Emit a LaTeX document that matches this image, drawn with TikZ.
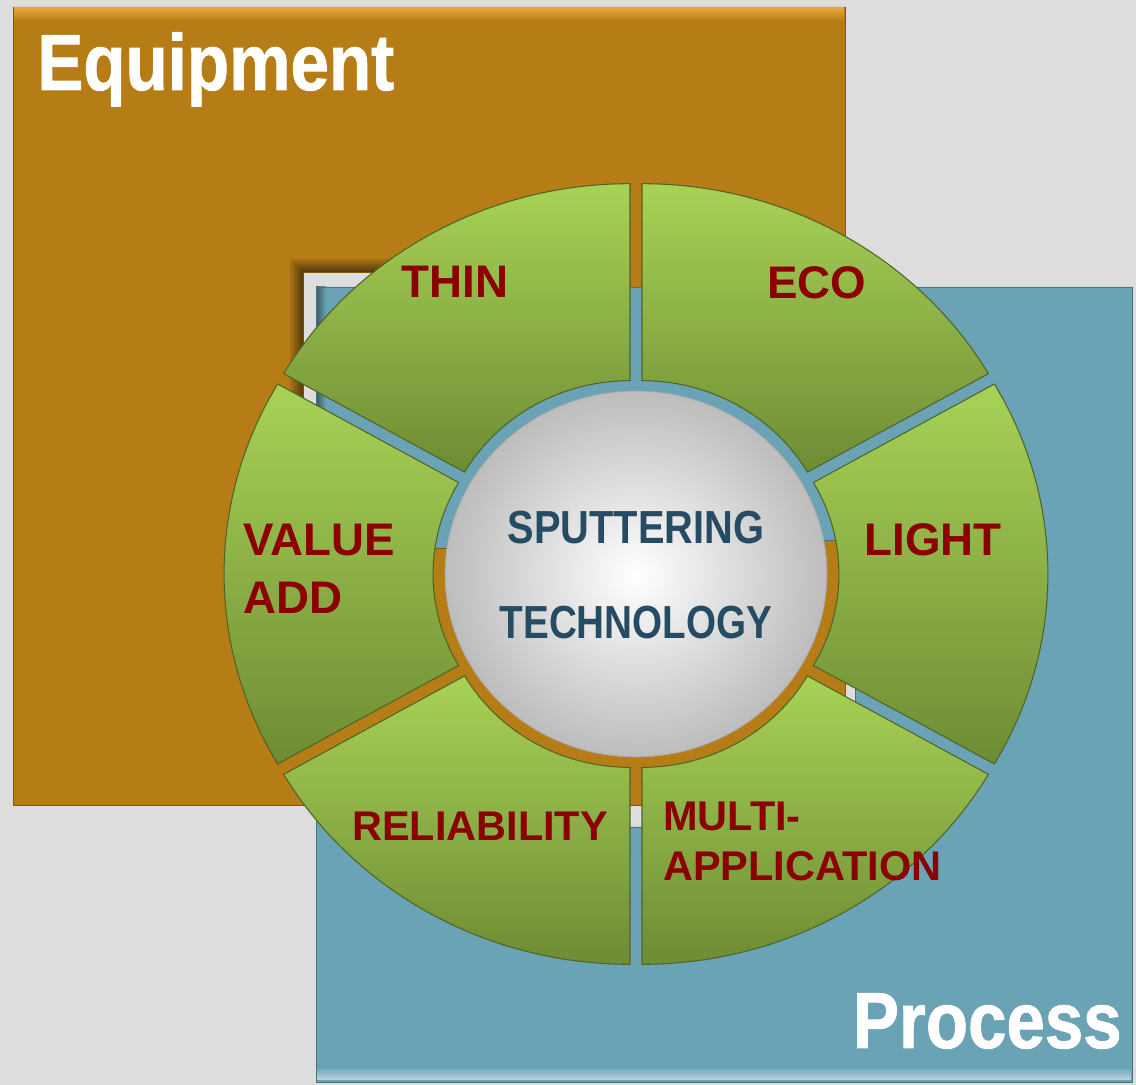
\documentclass[tikz,border=0pt]{standalone}
\usepackage{fontspec}
\usepackage{graphicx}
\setmainfont{Liberation Sans}
\newfontfamily\framefont[FakeBold=1.2]{Liberation Sans Bold}
\usetikzlibrary{shapes.geometric}

\definecolor{bggray}{RGB}{221,221,221}
\definecolor{equiporange}{RGB}{182,124,22}
\definecolor{equiplight}{RGB}{230,168,58}
\definecolor{procblue}{RGB}{106,163,181}
\definecolor{seglight}{RGB}{168,210,86}
\definecolor{segdark}{RGB}{110,140,52}
\definecolor{segedge}{RGB}{80,100,38}
\definecolor{labelred}{RGB}{139,0,0}
\definecolor{hubblue}{RGB}{38,76,100}

\tikzset{
  segment/.style={top color=seglight, bottom color=segdark, draw=segedge, line width=0.6pt},
  seglabel/.style={text=labelred, font=\fontsize{26}{33}\selectfont\bfseries, inner sep=0pt, align=left},
  hubtext/.style={text=hubblue, font=\fontsize{22}{26}\selectfont\bfseries, inner sep=0pt},
  hub/.style={ellipse, minimum width=7.64cm, minimum height=7.32cm, inner color=white, outer color=black!26, draw=black!35},
  framelabel/.style={text=white, font=\fontsize{39.3}{44}\selectfont\framefont, inner sep=0pt}
}

\begin{document}
\begin{tikzpicture}[x=0.02cm, y=0.02cm]
\fill[bggray] (0,0) rectangle (1136,1085);

\fill[procblue, even odd rule, draw=procblue!70!black] (316,3) rectangle (1132,798) (577,258) rectangle (855,545);
\shade[top color=procblue, bottom color=procblue!45!white] (317,5) rectangle (1131,18);
\fill[equiporange, even odd rule, draw=equiporange!70!black] (13,280) rectangle (845,1078) (303,537) rectangle (590,813);
\shade[top color=equiplight, bottom color=equiporange] (14,1077) rectangle (844,1064);
\shade[top color=equiporange, bottom color=equiporange!45!black] (288,828) -- (605,828) -- (590,813) -- (303,813) -- cycle;
\shade[left color=equiporange, right color=equiporange!45!black] (288,828) -- (303,813) -- (303,537) -- (288,522) -- cycle;
\fill[procblue] (316,545) rectangle (1132,798);
\shade[left color=procblue!55!black, right color=procblue] (316,545) rectangle (326,798);
\draw[procblue!70!black] (316,545) -- (316,798) -- (1132,798) -- (1132,545);
\draw[procblue!70!black] (577,545) -- (855,545);

\begin{scope}[shift={(636,511)}]
\foreach \a [evaluate=\a as \m using \a+30, evaluate=\a as \e using \a+60] in {-150,-90,...,150}{
  \draw[segment, shift={(\m:0.24cm)}] (\a:8cm and 7.6cm)
    arc[start angle=\a, end angle=\e, x radius=8cm, y radius=7.6cm]
    -- (\e:3.82cm and 3.66cm)
    arc[start angle=\e, end angle=\a, x radius=3.82cm, y radius=3.66cm] -- cycle;
}
\end{scope}

\node[hub] (hub) at (636,511) {};
\node[hubtext] (sput) at (636,557) {\scalebox{1.03}[1.2]{SPUTTERING}};
\node[hubtext] (tech) at (636,462) {\scalebox{1}[1.2]{TECHNOLOGY}};

\node[seglabel] (thin) at (455,803) {THIN};
\node[seglabel] (eco) at (817,802) {ECO};
\node[seglabel] (light) at (933,545) {LIGHT};
\node[seglabel, anchor=west] (value) at (243,516) {VALUE\\ADD};
\node[seglabel, font=\fontsize{23.6}{28.5}\selectfont\bfseries] (reliab) at (480,259) {RELIABILITY};
\node[seglabel, font=\fontsize{23.6}{28.5}\selectfont\bfseries, anchor=west] (multi) at (663,244) {MULTI-\\APPLICATION};

\node[framelabel, anchor=base west] (equip) at (37,995) {\scalebox{1}[1.15]{Equipment}};
\node[framelabel, anchor=base east] (proc) at (1122,37) {\scalebox{1}[1.15]{Process}};
\end{tikzpicture}
\end{document}
